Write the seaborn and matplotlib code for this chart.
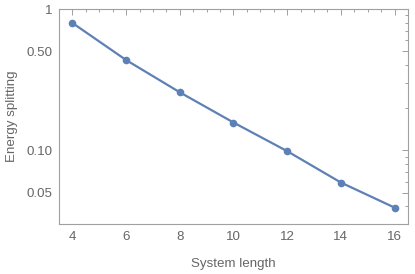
import matplotlib
matplotlib.use("Agg")
import matplotlib.pyplot as plt
import matplotlib.ticker as mticker
import seaborn as sns
import pandas as pd

system_length = [4, 6, 8, 10, 12, 14, 16]
energy_splitting = [0.796, 0.435, 0.257, 0.157, 0.0984, 0.059, 0.0392]
ytick_values = [0.05, 0.10, 0.50, 1]
ytick_labels = ["0.05", "0.10", "0.50", "1"]
xtick_values = [4, 6, 8, 10, 12, 14, 16]

df = pd.DataFrame({"L": system_length, "E": energy_splitting})

sns.set_style("white")
plt.rcParams['font.family'] = ['Liberation Sans', 'DejaVu Sans']

fig = plt.figure(figsize=(4.15, 2.74), dpi=100)
ax = fig.add_axes([59/415, 1 - 224/274, (408-59)/415, (224-9)/274])

color = "#5E81B5"
sns.lineplot(data=df, x="L", y="E", ax=ax, color=color, linewidth=1.6,
             marker="o", markersize=5.5, markeredgewidth=0, markeredgecolor=color)

ax.set_yscale("log")
ax.set_ylim(0.03, 1)
ax.set_xlim(3.5, 16.5)

ax.yaxis.set_major_locator(mticker.FixedLocator(ytick_values))
ax.yaxis.set_major_formatter(mticker.FixedFormatter(ytick_labels))
ax.yaxis.set_minor_locator(mticker.LogLocator(base=10, subs=range(2, 10)))
ax.yaxis.set_minor_formatter(mticker.NullFormatter())
ax.xaxis.set_major_locator(mticker.FixedLocator(xtick_values))
ax.xaxis.set_minor_locator(mticker.MultipleLocator(0.5))

frame_col = "#a0a0a0"
text_col = "#666666"
for s in ax.spines.values():
    s.set_color(frame_col)
    s.set_linewidth(0.8)

ax.tick_params(which="both", direction="in", top=True, right=True,
               color=frame_col, labelcolor=text_col, labelsize=9.6, width=0.7)
ax.tick_params(which="major", length=4, pad=5)
ax.tick_params(which="minor", length=2)

ax.set_xlabel("System length", color=text_col, fontsize=9.6, labelpad=11)
ax.set_ylabel("Energy splitting", color=text_col, fontsize=9.6, labelpad=6)

fig.savefig("out.png", dpi=100)
